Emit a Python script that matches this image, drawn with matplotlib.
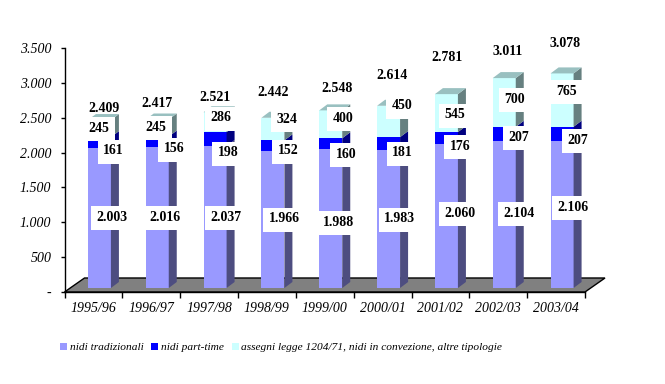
import matplotlib
matplotlib.use("Agg")
import matplotlib.pyplot as plt
import numpy as np
from matplotlib.patches import Polygon, Rectangle
from matplotlib.transforms import Affine2D

years = ["1995/96", "1996/97", "1997/98", "1998/99", "1999/00", "2000/01", "2001/02", "2002/03", "2003/04"]
tradizionali = [2003, 2016, 2037, 1966, 1988, 1983, 2060, 2104, 2106]
part_time = [161, 156, 198, 152, 160, 181, 176, 207, 207]
assegni = [245, 245, 286, 324, 400, 450, 545, 700, 765]
totali = [2409, 2417, 2521, 2442, 2548, 2614, 2781, 3011, 3078]
series_names = ["nidi tradizionali", "nidi part-time", "assegni legge 1204/71, nidi in convezione, altre tipologie"]
y_ticks = [0, 500, 1000, 1500, 2000, 2500, 3000, 3500]

# label centres in image pixels
pos_trad = [(112, 217.3), (165, 217.3), (226, 217.3), (284, 218.7), (339, 222.3), (400, 218.7), (460, 213.3), (519, 213.3), (573, 207.3)]
pos_part = [(113.7, 150.7), (174, 148.7), (228, 152.7), (288, 150.7), (346, 154.3), (402.7, 152.7), (460, 146.3), (519, 137.3), (578, 140.3)]
pos_ass = [(99, 128.3), (156, 127.3), (221, 117.7), (286.7, 119.3), (343, 118.3), (402, 105.7), (455, 114.7), (515, 99.3), (567, 91.3)]
pos_tot = [(104, 108.7), (157, 103.3), (215, 97.7), (273, 92.7), (337, 88.7), (392, 75.7), (447, 57.3), (508, 51.3), (565, 43.3)]

front = ["#9999FF", "#0000FF", "#CCFFFF"]
side = ["#4D4D80", "#000080", "#668080"]
top = ["#8080C0", "#0000A0", "#99C0C0"]
W, H = 665, 384
SERIF = "Liberation Serif"

fig = plt.figure(figsize=(W / 100, H / 100), dpi=100, facecolor="white")
ax = fig.add_axes([64.5 / W, 1 - 292 / H, (585 - 64.5) / W, (292 - 48) / H])
ax.set_xlim(-0.5, 8.5)
ax.set_ylim(0, 3500)
ax.patch.set_visible(False)

ppx = (585 - 64.5) / 9          # px per category
ppy = (292 - 48) / 3500         # px per unit
base = 4 / ppy
off = 6 / ppx
bw = 23 / ppx
dx, dy = 8 / ppx, 6 / ppy

fl_dx, fl_dy = 20 / ppx, 14 / ppy
ax.add_patch(Polygon([(-0.5, 0), (8.5, 0), (8.5 + fl_dx, fl_dy), (-0.5 + fl_dx, fl_dy)],
                     closed=True, fc="#808080", ec="black", lw=1, clip_on=False, zorder=1))

x = np.arange(len(years)) + off
bottom = np.full(len(years), base, dtype=float)
handles = []
for k, vals in enumerate([tradizionali, part_time, assegni]):
    vals = np.array(vals, dtype=float)
    h = ax.bar(x, vals, bw, bottom=bottom, color=front[k], lw=0, zorder=3, label=series_names[k], clip_on=False)
    handles.append(h)
    for xi, b, v in zip(x, bottom, vals):
        r = xi + bw / 2
        l = xi - bw / 2
        ax.add_patch(Polygon([(r, b), (r + dx, b + dy), (r + dx, b + v + dy), (r, b + v)],
                             closed=True, fc=side[k], lw=0, zorder=3, clip_on=False))
        if k == 2:
            ax.add_patch(Polygon([(l, b + v), (l + dx, b + v + dy), (r + dx, b + v + dy), (r, b + v)],
                                 closed=True, fc=top[k], lw=0, zorder=3, clip_on=False))
    bottom = bottom + vals

px = Affine2D().scale(1, -1).translate(0, H)


def fmt(v):
    return f"{v:,}".replace(",", ".")


for vals, pos, boxed in [(tradizionali, pos_trad, True), (part_time, pos_part, True),
                         (assegni, pos_ass, True), (totali, pos_tot, False)]:
    for v, (cx, cy) in zip(vals, pos):
        s = fmt(v)
        if boxed:
            bwid = 42 if v >= 1000 else 32
            fig.add_artist(Rectangle((cx - bwid / 2, cy - 11), bwid, 24, transform=px, fc="white", lw=0, zorder=5))
        fig.text(cx, cy, s, transform=px, ha="center", va="center", family=SERIF,
                 weight="bold", fontsize=10, color="black", zorder=6)

for s in ["top", "right"]:
    ax.spines[s].set_visible(False)
ax.spines["left"].set_linewidth(1)
ax.spines["bottom"].set_linewidth(1)
ax.spines["left"].set_zorder(2)
ax.set_yticks(y_ticks)
ax.set_yticklabels(["-" if t == 0 else fmt(t) for t in y_ticks], family=SERIF, style="italic", fontsize=10)
ax.tick_params(axis="y", length=3, width=1, pad=6.5)
ax.set_xticks(np.arange(-0.5, 9))
ax.set_xticklabels([])
ax.tick_params(axis="x", which="major", length=4, width=1)
ax.set_xticks(np.arange(len(years)), minor=True)
ax.set_xticklabels(years, minor=True, family=SERIF, style="italic", fontsize=10)
ax.tick_params(axis="x", which="minor", length=0, pad=7.5)

fig.legend(handles=handles, loc="center left", bbox_to_anchor=(60 / W, 1 - 347.5 / H), ncol=3, frameon=False,
           prop={"family": SERIF, "style": "italic", "size": 8.2}, handlelength=0.62, handleheight=0.62,
           handletextpad=0.22, columnspacing=0.7, borderpad=0, borderaxespad=0)

fig.savefig("out.png", dpi=100, facecolor="white")
